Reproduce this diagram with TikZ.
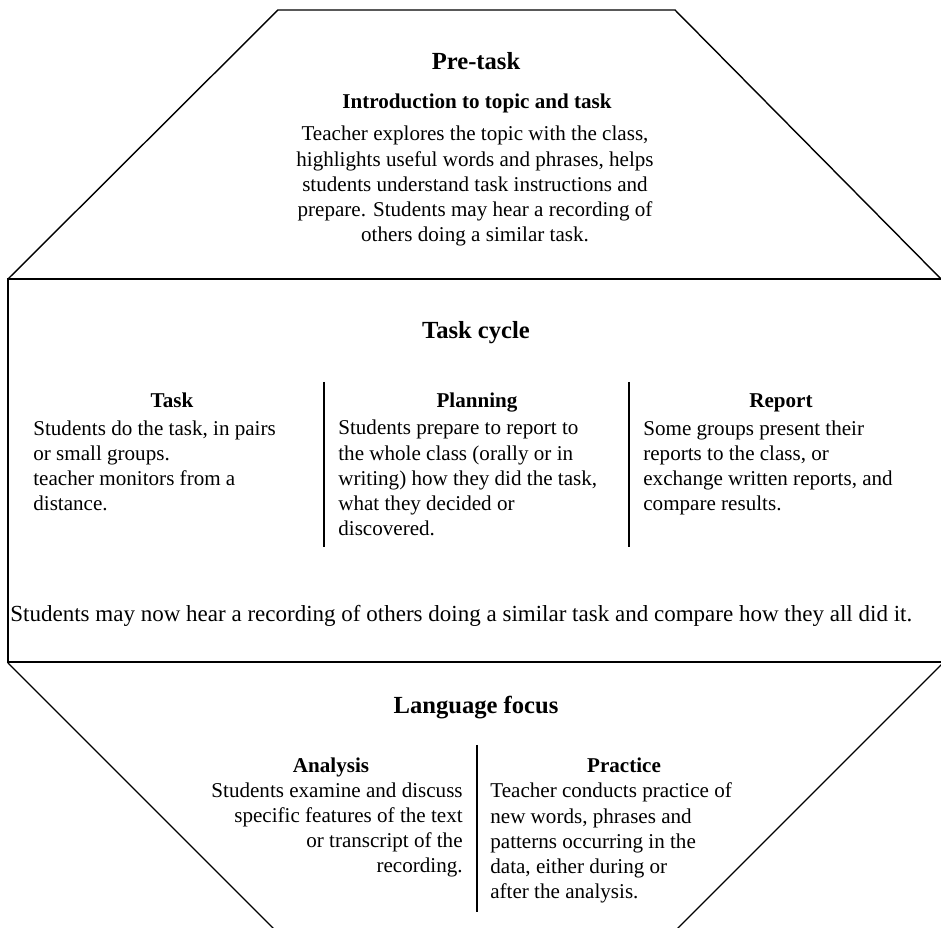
\documentclass[tikz,border=0pt]{standalone}
\usepackage{fontspec}
\setmainfont{Liberation Serif}
\tikzset{
  stagehead/.style={font=\fontsize{14}{16}\selectfont\bfseries, inner sep=0pt, anchor=base},
  parthead/.style={font=\fontsize{12}{14}\selectfont\bfseries, inner sep=0pt, anchor=base},
  bodytext/.style={font=\fontsize{12}{14.4}\selectfont, inner sep=0pt},
  slant/.style={line width=0.8pt},
  frame/.style={line width=1.1pt},
  divider/.style={line width=0.9pt}
}
\begin{document}
\begin{tikzpicture}[x=0.02cm,y=-0.02cm]
\useasboundingbox (0,0) rectangle (941,928);
% pre-task
\draw[slant] (8,279) -- (278,10) -- (675,10) -- (944,282);
\node[stagehead] (pretask) at (476,70) {Pre-task};
\node[parthead] (intro) at (477,109) {Introduction to topic and task};
\node[bodytext, align=center, anchor=base] (introtext) at (475,242)
  {Teacher explores the topic with the class,\\
   highlights useful words and phrases, helps\\
   students understand task instructions and\\
   prepare. Students may hear a recording of\\
   others doing a similar task.};
% task cycle
\draw[frame] (946,279) -- (8,279) -- (8,662) -- (946,662);
\node[stagehead] (cycle) at (476,339) {Task cycle};
\draw[divider] (324,382) -- (324,547);
\draw[divider] (629,382) -- (629,547);
\node[parthead] (task) at (172,408) {Task};
\node[bodytext, align=left, anchor=base west] (tasktext) at (33,511)
  {Students do the task, in pairs\\
   or small groups.\\
   teacher monitors from a\\
   distance.};
\node[parthead] (planning) at (477,408) {Planning};
\node[bodytext, align=left, anchor=base west] (planningtext) at (338,536)
  {Students prepare to report to\\
   the whole class (orally or in\\
   writing) how they did the task,\\
   what they decided or\\
   discovered.};
\node[parthead] (report) at (781,408) {Report};
\node[bodytext, align=left, anchor=base west] (reporttext) at (643,511)
  {Some groups present their\\
   reports to the class, or\\
   exchange written reports, and\\
   compare results.};
\node[bodytext, font=\fontsize{13.1}{15}\selectfont, anchor=base west] (compare) at (10,622)
  {Students may now hear a recording of others doing a similar task and compare how they all did it.};
% language focus
\draw[slant] (8,663) -- (278,933) -- (673,933) -- (944,662);
\node[stagehead] (focus) at (476,714) {Language focus};
\draw[divider] (477,745) -- (477,912);
\node[parthead] (analysis) at (331,773) {Analysis};
\node[bodytext, align=right, anchor=base east] (analysistext) at (463,873)
  {Students examine and discuss\\
   specific features of the text\\
   or transcript of the\\
   recording.};
\node[parthead] (practice) at (624,773) {Practice};
\node[bodytext, align=left, anchor=base west] (practicetext) at (490,899)
  {Teacher conducts practice of\\
   new words, phrases and\\
   patterns occurring in the\\
   data, either during or\\
   after the analysis.};
\end{tikzpicture}
\end{document}
